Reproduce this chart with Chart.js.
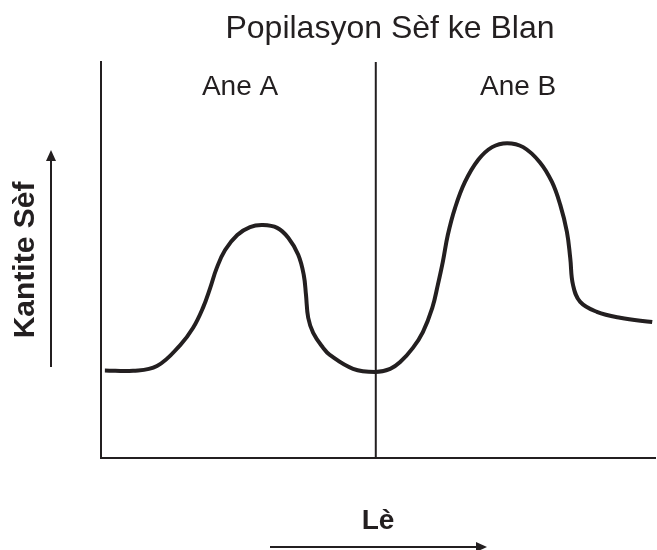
<!DOCTYPE html>
<html>
<head>
<meta charset="utf-8">
<script src="https://cdn.jsdelivr.net/npm/chart.js@4"></script>
<style>
  html, body { margin: 0; padding: 0; background: #fff; }
  canvas { display: block; }
</style>
</head>
<body>
<canvas id="chartCanvas" width="657" height="550"></canvas>
<script>
const chartTitle = 'Popilasyon Sèf ke Blan';
const xTitle = 'Lè';
const yTitle = 'Kantite Sèf';

// curve (time 0-100, count 0-100)
const timeX = [0.7, 5.8, 10.1, 14.3, 16.6, 18.4, 19.7, 20.9, 22.4, 24.6, 26.9, 29.2, 31.8, 33.8, 35.6, 36.6, 37.0, 37.4, 38.3,
  40.1, 41.3, 45.5, 49.5, 52.2, 54.0, 56.3, 58.1, 59.8, 60.8, 61.7, 62.6, 63.9, 65.7, 68.1, 70.6, 73.3, 76.2,
  79.2, 81.4, 82.9, 84.1, 84.7, 85.2, 86.5, 89.5, 93.7, 99.5];
const countY = [22.1, 22.0, 23.2, 28.5, 32.8, 37.9, 42.9, 48.0, 52.5, 56.3, 58.3, 58.8, 58.1, 55.6, 51.3, 46.2, 41.2, 35.4, 31.6,
  27.8, 26.0, 22.5, 21.7, 22.5, 24.2, 27.8, 31.8, 37.9, 43.7, 49.5, 56.3, 63.1, 69.7, 75.3, 78.5, 79.5, 78.5,
  74.7, 69.7, 63.9, 57.1, 50.5, 43.7, 39.4, 36.9, 35.4, 34.3];

const boundaryX = [49.6, 49.6];
const boundaryY = [0, 100];

const yearLabels = ['Ane A', 'Ane B'];
const yearLabelX = [25.1, 75.3];
const yearLabelY = 91.7;

const ink = '#231f20';
const font = '"Liberation Sans", Arial, sans-serif';

function arrow(ctx, x1, y1, x2, y2) {
  const ang = Math.atan2(y2 - y1, x2 - x1);
  const len = 11, half = 5;
  ctx.beginPath();
  ctx.moveTo(x1, y1);
  ctx.lineTo(x2 - len * Math.cos(ang), y2 - len * Math.sin(ang));
  ctx.stroke();
  ctx.beginPath();
  ctx.moveTo(x2, y2);
  ctx.lineTo(x2 - len * Math.cos(ang) - half * Math.sin(ang), y2 - len * Math.sin(ang) + half * Math.cos(ang));
  ctx.lineTo(x2 - len * Math.cos(ang) + half * Math.sin(ang), y2 - len * Math.sin(ang) - half * Math.cos(ang));
  ctx.closePath();
  ctx.fill();
}

const extras = {
  id: 'extras',
  afterDraw(chart) {
    const ctx = chart.ctx;
    const xs = chart.scales.x, ys = chart.scales.y;
    ctx.save();
    ctx.fillStyle = ink;
    ctx.strokeStyle = ink;
    ctx.textAlign = 'center';
    ctx.textBaseline = 'alphabetic';

    ctx.font = '32px ' + font;
    ctx.fillText(chartTitle, 390, 38);

    ctx.font = '28px ' + font;
    yearLabels.forEach((t, i) => {
      ctx.fillText(t, xs.getPixelForValue(yearLabelX[i]), ys.getPixelForValue(yearLabelY));
    });

    ctx.lineWidth = 2;
    arrow(ctx, 51, 367, 51, 150);
    arrow(ctx, 270, 547, 487, 547);
    ctx.restore();
  }
};

new Chart(document.getElementById('chartCanvas').getContext('2d'), {
  type: 'line',
  data: {
    datasets: [
      {
        label: 'Kantite Sèf',
        data: timeX.map((x, i) => ({ x: x, y: countY[i] })),
        borderColor: ink,
        borderWidth: 4,
        pointRadius: 0,
        tension: 0.4,
        fill: false
      },
      {
        label: 'limit',
        data: boundaryX.map((x, i) => ({ x: x, y: boundaryY[i] })),
        borderColor: ink,
        borderWidth: 2,
        pointRadius: 0,
        fill: false
      }
    ]
  },
  options: {
    responsive: false,
    animation: false,
    devicePixelRatio: 1,
    layout: { padding: { top: 62, right: 2, left: 0, bottom: 0 } },
    plugins: {
      legend: { display: false },
      tooltip: { enabled: false }
    },
    scales: {
      x: {
        type: 'linear',
        min: 0,
        max: 100,
        ticks: { display: false },
        grid: { color: 'transparent', drawTicks: false },
        border: { display: true, color: ink, width: 2 },
        title: {
          display: true,
          text: xTitle,
          color: ink,
          font: { family: font, size: 28, weight: 'bold', lineHeight: 1.2 },
          padding: { top: 46.5, bottom: 12 }
        }
      },
      y: {
        type: 'linear',
        min: 0,
        max: 100,
        ticks: { display: false },
        grid: { color: 'transparent', drawTicks: false },
        border: { display: true, color: ink, width: 2 },
        title: {
          display: true,
          text: yTitle,
          color: ink,
          font: { family: font, size: 30, weight: 'bold', lineHeight: 1.2 },
          padding: { top: 8, bottom: 57 }
        }
      }
    }
  },
  plugins: [extras]
});
</script>
</body>
</html>
